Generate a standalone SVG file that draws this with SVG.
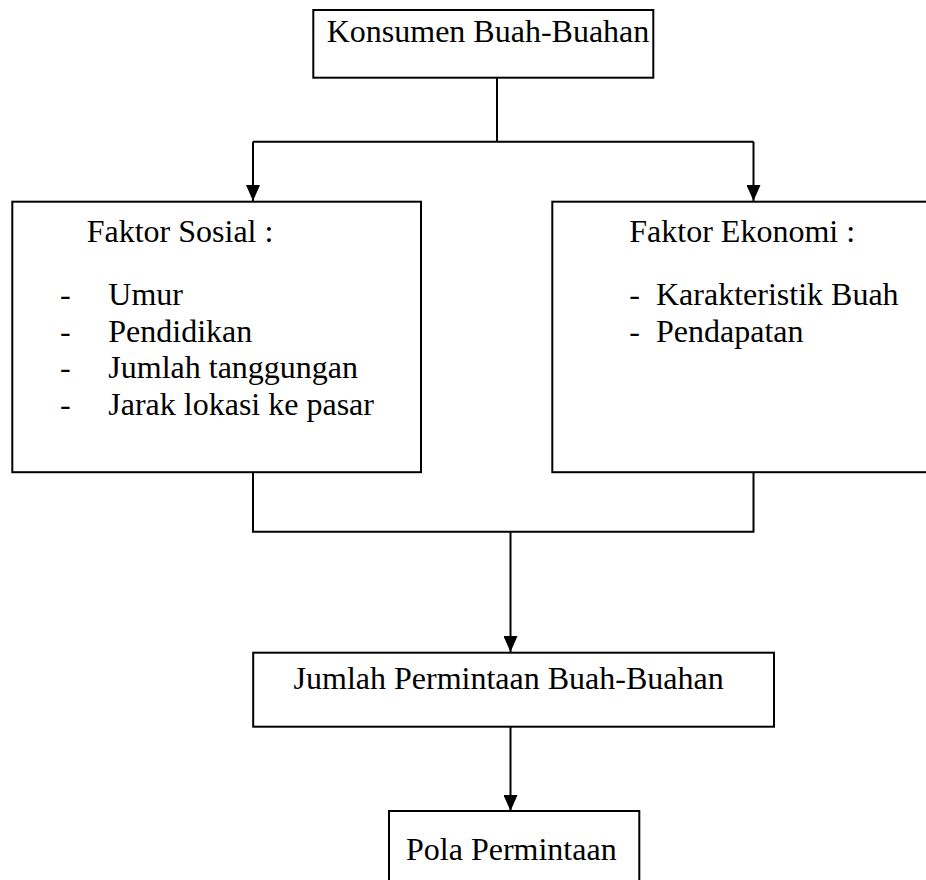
<svg xmlns="http://www.w3.org/2000/svg" width="926" height="880" viewBox="0 0 926 880">
<style>
.box{fill:#fff;stroke:#000;stroke-width:2}
text{font-family:'Liberation Serif','Times New Roman','DejaVu Serif',serif;font-size:32px;fill:#000}
.c{fill:none;stroke:#000;stroke-width:2}
</style>
<defs>
<marker id="ah" viewBox="0 0 16 14" refX="16" refY="7" markerWidth="16" markerHeight="14" markerUnits="userSpaceOnUse" orient="auto">
<path d="M0,0 L16,7 L0,14 Z" fill="#000"/>
</marker>
</defs>
<rect width="926" height="880" fill="#fff"/>
<g id="connectors">
<path class="c" d="M497,78 V141.7"/>
<path class="c" d="M253,141.7 H753.5"/>
<path class="c" d="M253,141.7 V201" marker-end="url(#ah)"/>
<path class="c" d="M753.5,141.7 V201" marker-end="url(#ah)"/>
<path class="c" d="M253,472 V531.7 H753.5 V472"/>
<path class="c" d="M510.5,531.7 V652" marker-end="url(#ah)"/>
<path class="c" d="M510.5,727 V811" marker-end="url(#ah)"/>
</g>
<g id="konsumen">
<rect class="box" x="313.3" y="10" width="340" height="67.7"/>
<text x="326.7" y="41.7" font-family="Liberation Serif, serif">Konsumen Buah-Buahan</text>
</g>
<g id="sosial" font-family="Liberation Serif, serif">
<rect class="box" x="12.3" y="201.7" width="408.7" height="270.5"/>
<text x="86.7" y="241.7">Faktor Sosial :</text>
<text x="60" y="305">-</text><text x="108.3" y="305">Umur</text>
<text x="60" y="341.7">-</text><text x="108.3" y="341.7">Pendidikan</text>
<text x="60" y="378.3">-</text><text x="108.3" y="378.3">Jumlah tanggungan</text>
<text x="60" y="415">-</text><text x="108.3" y="415">Jarak lokasi ke pasar</text>
</g>
<g id="ekonomi">
<rect class="box" x="552.3" y="201.7" width="400" height="270.5"/>
<text x="629.3" y="241.7">Faktor Ekonomi :</text>
<text x="629.3" y="305">-</text><text x="656" y="305">Karakteristik Buah</text>
<text x="629.3" y="341.7">-</text><text x="656" y="341.7">Pendapatan</text>
</g>
<g id="jumlah">
<rect class="box" x="253.2" y="652.7" width="520.8" height="74"/>
<text x="293.6" y="689.3">Jumlah Permintaan Buah-Buahan</text>
</g>
<g id="pola">
<rect class="box" x="389" y="811" width="250.3" height="90"/>
<text x="406" y="860">Pola Permintaan</text>
</g>
</svg>
